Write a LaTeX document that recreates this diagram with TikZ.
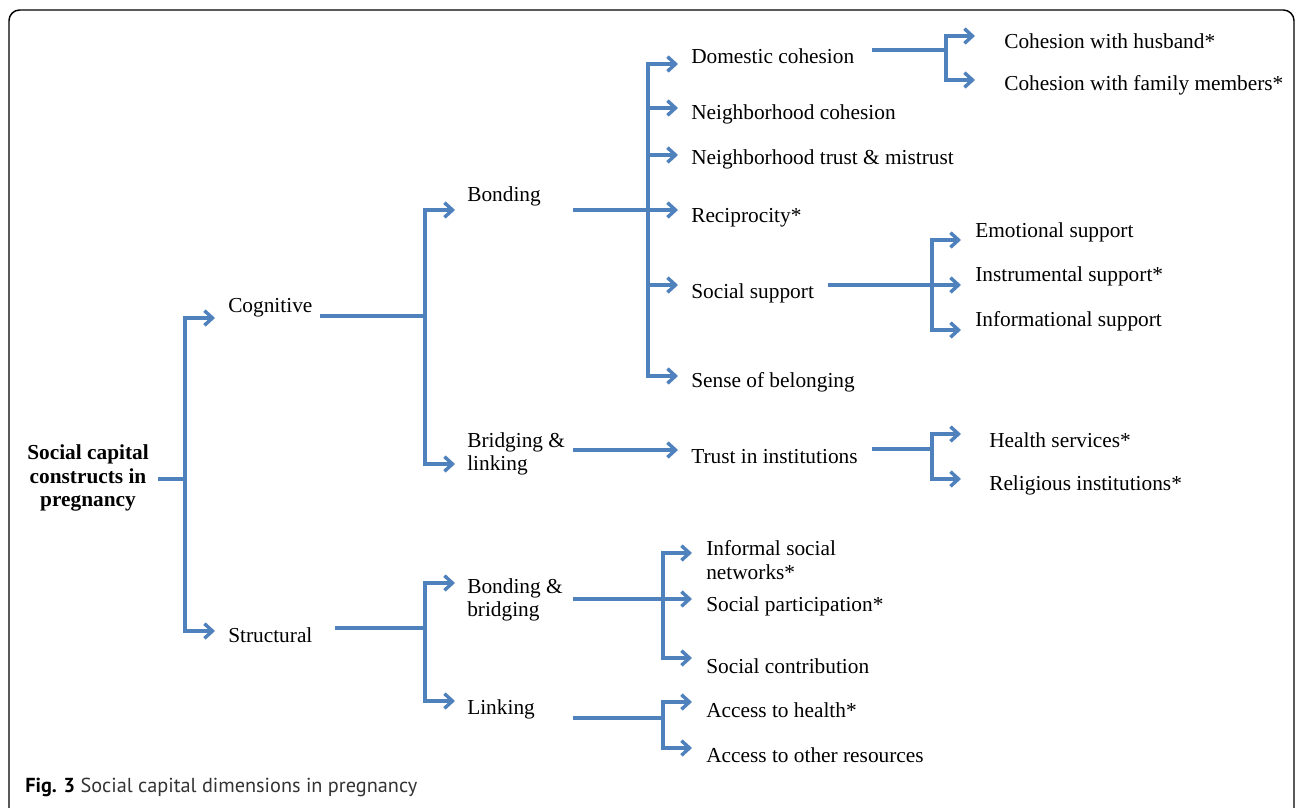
\documentclass[tikz,border=0pt]{standalone}
\usepackage{fontspec}
\setmainfont{Liberation Serif}
\newfontfamily\capfont{PT Sans}
\usetikzlibrary{arrows.meta}
\definecolor{linkblue}{RGB}{79,129,189}

\begin{document}
\begin{tikzpicture}[x=0.75pt,y=-0.75pt,
  lbl/.style={anchor=west,inner sep=0pt,yshift=-1.5pt,align=left,font=\fontsize{16}{17.6}\selectfont},
  link/.style={draw=linkblue,line width=2.6pt},
  arr/.style={link,-{Straight Barb[length=6pt,width=11pt]}}]
  \useasboundingbox (0,0) rectangle (1296,807);
  \draw[line width=1.1pt,rounded corners=8pt] (9,10) rectangle (1294,820);

  % text
  \node[lbl,anchor=center,align=center,font=\fontsize{16}{17.6}\selectfont\bfseries] (root) at (88,476) {Social capital\\constructs in\\pregnancy};
  \node[lbl] (cog) at (228,306) {Cognitive};
  \node[lbl] (struc) at (228,633) {Structural};
  \node[lbl] (bond) at (467,194) {Bonding};
  \node[lbl] (bridge) at (467,452) {Bridging \&\\linking};
  \node[lbl] (bondbr) at (467,598) {Bonding \&\\bridging};
  \node[lbl] (link) at (467,707) {Linking};
  \node[lbl] (domc) at (691,54) {Domestic cohesion};
  \node[lbl] (nbc) at (691,112) {Neighborhood cohesion};
  \node[lbl] (nbt) at (691,157) {Neighborhood trust \& mistrust};
  \node[lbl] (recip) at (691,216) {Reciprocity*};
  \node[lbl] (ssup) at (691,291) {Social support};
  \node[lbl] (belong) at (691,380) {Sense of belonging};
  \node[lbl] (trust) at (691,455) {Trust in institutions};
  \node[lbl] (husb) at (1004,39) {Cohesion with husband*};
  \node[lbl] (fam) at (1004,83) {Cohesion with family members*};
  \node[lbl] (emo) at (975,230) {Emotional support};
  \node[lbl] (instr) at (975,274) {Instrumental support*};
  \node[lbl] (info) at (975,319) {Informational support};
  \node[lbl] (hserv) at (989,438) {Health services*};
  \node[lbl] (relig) at (989,483) {Religious institutions*};
  \node[lbl] (infnet) at (706,558) {Informal social\\networks*};
  \node[lbl] (part) at (706,604) {Social participation*};
  \node[lbl] (contrib) at (706,664) {Social contribution};
  \node[lbl] (acch) at (706,708) {Access to health*};
  \node[lbl] (accoth) at (706,753) {Access to other resources};
  \node[anchor=west,inner sep=0pt,font=\capfont\fontsize{15.2}{17}\selectfont,text=black!80] (cap) at (25,787) {\textbf{\color{black}Fig. 3} Social capital dimensions in pregnancy};

  % stems, buses and arrow tips
  \coordinate (root-out) at (158,479);  \coordinate (root-bus) at (185,479);
  \coordinate (cog-in) at (215,318);    \coordinate (struc-in) at (215,631);
  \draw[arr] (root-out) -| (root-bus |- cog-in) -- (cog-in);
  \draw[arr] (root-out) -| (root-bus |- struc-in) -- (struc-in);

  \coordinate (cog-out) at (320,316);   \coordinate (cog-bus) at (425,316);
  \coordinate (bond-in) at (455,210);   \coordinate (bridge-in) at (455,464);
  \draw[arr] (cog-out) -| (cog-bus |- bond-in) -- (bond-in);
  \draw[arr] (cog-out) -| (cog-bus |- bridge-in) -- (bridge-in);

  \coordinate (struc-out) at (335,628); \coordinate (struc-bus) at (425,628);
  \coordinate (bondbr-in) at (455,583); \coordinate (link-in) at (455,701);
  \draw[arr] (struc-out) -| (struc-bus |- bondbr-in) -- (bondbr-in);
  \draw[arr] (struc-out) -| (struc-bus |- link-in) -- (link-in);

  \coordinate (bond-out) at (573,210);  \coordinate (bond-bus) at (648,210);
  \coordinate (domc-in) at (678,64);    \coordinate (nbc-in) at (678,108);
  \coordinate (nbt-in) at (678,155);    \coordinate (recip-in) at (678,210);
  \coordinate (ssup-in) at (678,285);   \coordinate (belong-in) at (678,376);
  \foreach \c in {domc,nbc,nbt,recip,ssup,belong}
    \draw[arr] (bond-out) -| (bond-bus |- \c-in) -- (\c-in);

  \coordinate (bridge-out) at (573,450); \coordinate (trust-in) at (678,450);
  \draw[arr] (bridge-out) -- (trust-in);

  \coordinate (domc-out) at (872,50);   \coordinate (domc-bus) at (946,50);
  \coordinate (husb-in) at (975,36);    \coordinate (fam-in) at (975,80);
  \draw[arr] (domc-out) -| (domc-bus |- husb-in) -- (husb-in);
  \draw[arr] (domc-out) -| (domc-bus |- fam-in) -- (fam-in);

  \coordinate (ssup-out) at (828,285);  \coordinate (ssup-bus) at (932,285);
  \coordinate (emo-in) at (961,240);    \coordinate (instr-in) at (961,285);
  \coordinate (info-in) at (961,330);
  \foreach \c in {emo,instr,info}
    \draw[arr] (ssup-out) -| (ssup-bus |- \c-in) -- (\c-in);

  \coordinate (trust-out) at (872,449); \coordinate (trust-bus) at (932,449);
  \coordinate (hserv-in) at (961,434);  \coordinate (relig-in) at (961,479);
  \draw[arr] (trust-out) -| (trust-bus |- hserv-in) -- (hserv-in);
  \draw[arr] (trust-out) -| (trust-bus |- relig-in) -- (relig-in);

  \coordinate (bondbr-out) at (573,599); \coordinate (bondbr-bus) at (663,599);
  \coordinate (infnet-in) at (692,553);  \coordinate (part-in) at (692,599);
  \coordinate (contrib-in) at (692,658);
  \foreach \c in {infnet,part,contrib}
    \draw[arr] (bondbr-out) -| (bondbr-bus |- \c-in) -- (\c-in);

  \coordinate (link-out) at (573,718);  \coordinate (link-bus) at (663,718);
  \coordinate (acch-in) at (692,702);   \coordinate (accoth-in) at (692,748);
  \draw[arr] (link-out) -| (link-bus |- acch-in) -- (acch-in);
  \draw[arr] (link-out) -| (link-bus |- accoth-in) -- (accoth-in);
\end{tikzpicture}
\end{document}
